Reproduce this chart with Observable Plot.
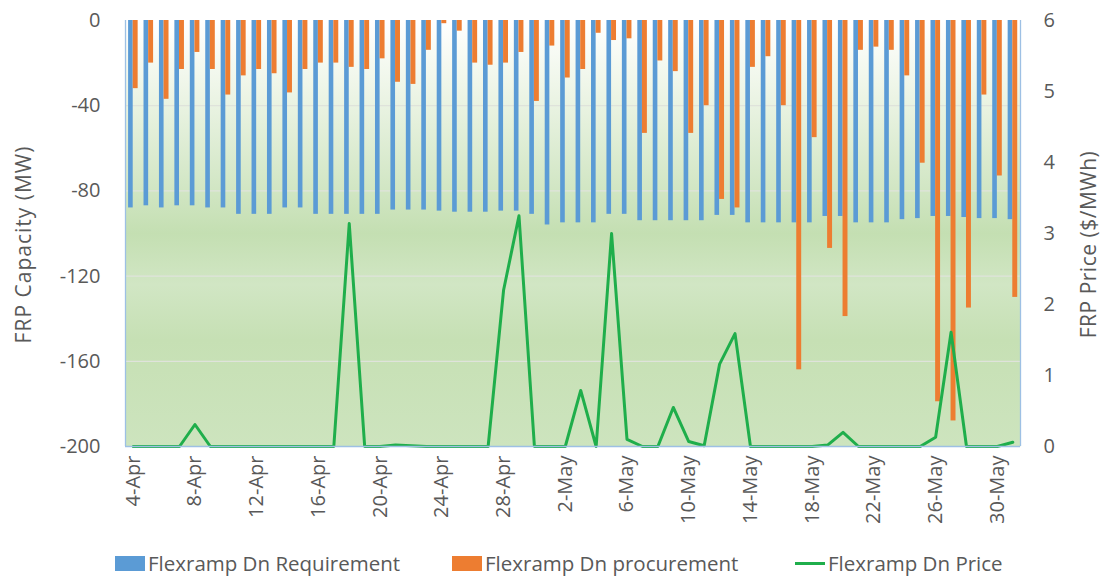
<!DOCTYPE html>
<html>
<head>
<meta charset="utf-8">
<script src="https://cdn.jsdelivr.net/npm/d3@7"></script>
<script src="https://cdn.jsdelivr.net/npm/@observablehq/plot@0.6"></script>
<style>
  body { margin: 0; background: #fff; font-family: "Open Sans", sans-serif; }
  #wrap { position: relative; width: 1104px; height: 579px; overflow: hidden; }
  #legend { position: absolute; top: 550px; left: 0; width: 1104px; height: 26px; font-size: 20.5px; line-height: 26px; color: #595959; }
  .item { position: absolute; top: 0; display: flex; align-items: center; height: 26px; }
  .sw { width: 30px; height: 15px; margin-right: 3px; }
  .ln { width: 30px; height: 3px; margin-right: 3px; }
</style>
</head>
<body>
<div id="wrap"><div id="chart"></div>
<div id="legend">
  <div class="item" style="left:115px"><span class="sw" style="background:#5b9bd5"></span>Flexramp Dn Requirement</div>
  <div class="item" style="left:452px"><span class="sw" style="background:#ed7d31"></span>Flexramp Dn procurement</div>
  <div class="item" style="left:795px"><span class="ln" style="background:#1fae4b"></span>Flexramp Dn Price</div>
</div></div>
<script>
const dates = ["4-Apr","5-Apr","6-Apr","7-Apr","8-Apr","9-Apr","10-Apr","11-Apr","12-Apr","13-Apr","14-Apr","15-Apr","16-Apr","17-Apr","18-Apr","19-Apr","20-Apr","21-Apr","22-Apr","23-Apr","24-Apr","25-Apr","26-Apr","27-Apr","28-Apr","29-Apr","30-Apr","1-May","2-May","3-May","4-May","5-May","6-May","7-May","8-May","9-May","10-May","11-May","12-May","13-May","14-May","15-May","16-May","17-May","18-May","19-May","20-May","21-May","22-May","23-May","24-May","25-May","26-May","27-May","28-May","29-May","30-May","31-May"];
const requirement = [-88,-87,-88,-87,-87,-88,-88,-91,-91,-91,-88,-88,-91,-91,-91,-91,-91,-89,-89,-89,-89.5,-90,-90,-90,-89.5,-89.5,-91,-96,-95,-95,-95,-91,-91,-94,-94,-94,-94,-94,-91.5,-91.5,-95,-95,-95,-95,-95,-92,-92,-95,-95,-95,-93.5,-93,-92,-92,-92.5,-93,-93,-93.5];
const procurement = [-32,-20,-37,-23,-15,-23,-35,-26,-23,-25,-34,-23,-20,-20,-22,-23,-18,-29,-30,-14,-1.5,-5,-20,-21,-20,-15,-38,-12,-27,-23,-6,-9.4,-8.6,-53,-19,-24,-53,-40,-84,-88,-22,-17,-40,-164,-55,-107,-139,-14,-12.5,-14,-26,-67,-179,-188,-135,-35,-73,-130];
const price = [0,0,0,0,0.31,0,0,0,0,0,0,0,0,0,3.14,0,0,0.02,0.01,0,0,0,0,0,2.2,3.25,0,0,0,0.79,0,3.0,0.1,0,0,0.55,0.07,0.01,1.16,1.59,0,0,0,0,0,0.02,0.2,0,0,0,0,0,0.13,1.61,0,0,0,0.06];
const capTicks = [0,-40,-80,-120,-160,-200];
const priceTicks = [0,1,2,3,4,5,6];
const xTickEvery = 4;

const capMin = -200, priceMax = 6;
const toCap = p => capMin + p * (-capMin) / priceMax;
const toPrice = v => (v - capMin) * priceMax / (-capMin);

const data = dates.map((d, i) => ({i, date: d, req: requirement[i], proc: procurement[i], price: price[i]}));
const xEdges = [-0.5, dates.length - 0.5];

const chart = Plot.plot({
  width: 1104,
  height: 532,
  marginTop: 20,
  marginLeft: 125,
  marginRight: 84,
  marginBottom: 86,
  style: {fontFamily: "Open Sans, sans-serif", fontSize: "20px", color: "#595959", background: "transparent"},
  x: {domain: xEdges, axis: null},
  y: {domain: [capMin, 0], axis: null},
  marks: [
    Plot.frame({fill: "url(#bggrad)"}),
    Plot.gridY(capTicks.filter(v => v !== capMin && v !== 0), {stroke: "#dfe3db", strokeOpacity: 1, strokeWidth: 1.2}),
    Plot.rectY(data, {x1: d => d.i - 0.3, x2: d => d.i, y1: 0, y2: "req", fill: "#5b9bd5"}),
    Plot.rectY(data, {x1: d => d.i, x2: d => d.i + 0.32, y1: 0, y2: "proc", fill: "#ed7d31"}),
    Plot.line(data, {x: "i", y: d => toCap(d.price), stroke: "#1fae4b", strokeWidth: 3}),
    Plot.ruleX(xEdges, {stroke: "#9dc0e4", strokeWidth: 1.3}),
    Plot.ruleY([capMin], {stroke: "#9dc0e4", strokeWidth: 1.3}),
    Plot.axisY({ticks: capTicks, tickFormat: v => String(v), tickSize: 0, tickPadding: 25, label: null, fontSize: 20}),
    Plot.axisY({anchor: "right", ticks: priceTicks.map(toCap), tickFormat: v => String(Math.round(toPrice(v))), tickSize: 0, tickPadding: 23, label: null, fontSize: 20}),
    Plot.axisX({ticks: d3.range(0, dates.length, xTickEvery), tickFormat: i => dates[i], tickRotate: -90, tickSize: 0, tickPadding: 9, label: null, fontSize: 20}),
    Plot.text(["FRP Capacity (MW)"], {frameAnchor: "left", dx: -101, dy: 11, rotate: -90, textAnchor: "middle", fontSize: 21, fill: "#595959"}),
    Plot.text(["FRP Price ($/MWh)"], {frameAnchor: "right", dx: 69, dy: 11, rotate: -90, textAnchor: "middle", fontSize: 21, fill: "#595959"})
  ]
});

const ns = "http://www.w3.org/2000/svg";
const defs = document.createElementNS(ns, "defs");
defs.innerHTML = `<linearGradient id="bggrad" x1="0" y1="0" x2="0" y2="1">
  <stop offset="0" stop-color="#ffffff"/>
  <stop offset="0.15" stop-color="#eff6e9"/>
  <stop offset="0.35" stop-color="#d7e9cb"/>
  <stop offset="0.5" stop-color="#c4dfb2"/>
  <stop offset="0.62" stop-color="#d1e6c4"/>
  <stop offset="0.75" stop-color="#c6e0b4"/>
  <stop offset="1" stop-color="#cde4be"/>
</linearGradient>`;
chart.insertBefore(defs, chart.firstChild);
chart.querySelectorAll("text").forEach(t => {
  if (t.textContent === "FRP Capacity (MW)") t.style.letterSpacing = "1px";
  if (t.textContent === "FRP Price ($/MWh)") t.style.letterSpacing = "0.5px";
});
document.getElementById("chart").appendChild(chart);
</script>
</body>
</html>
